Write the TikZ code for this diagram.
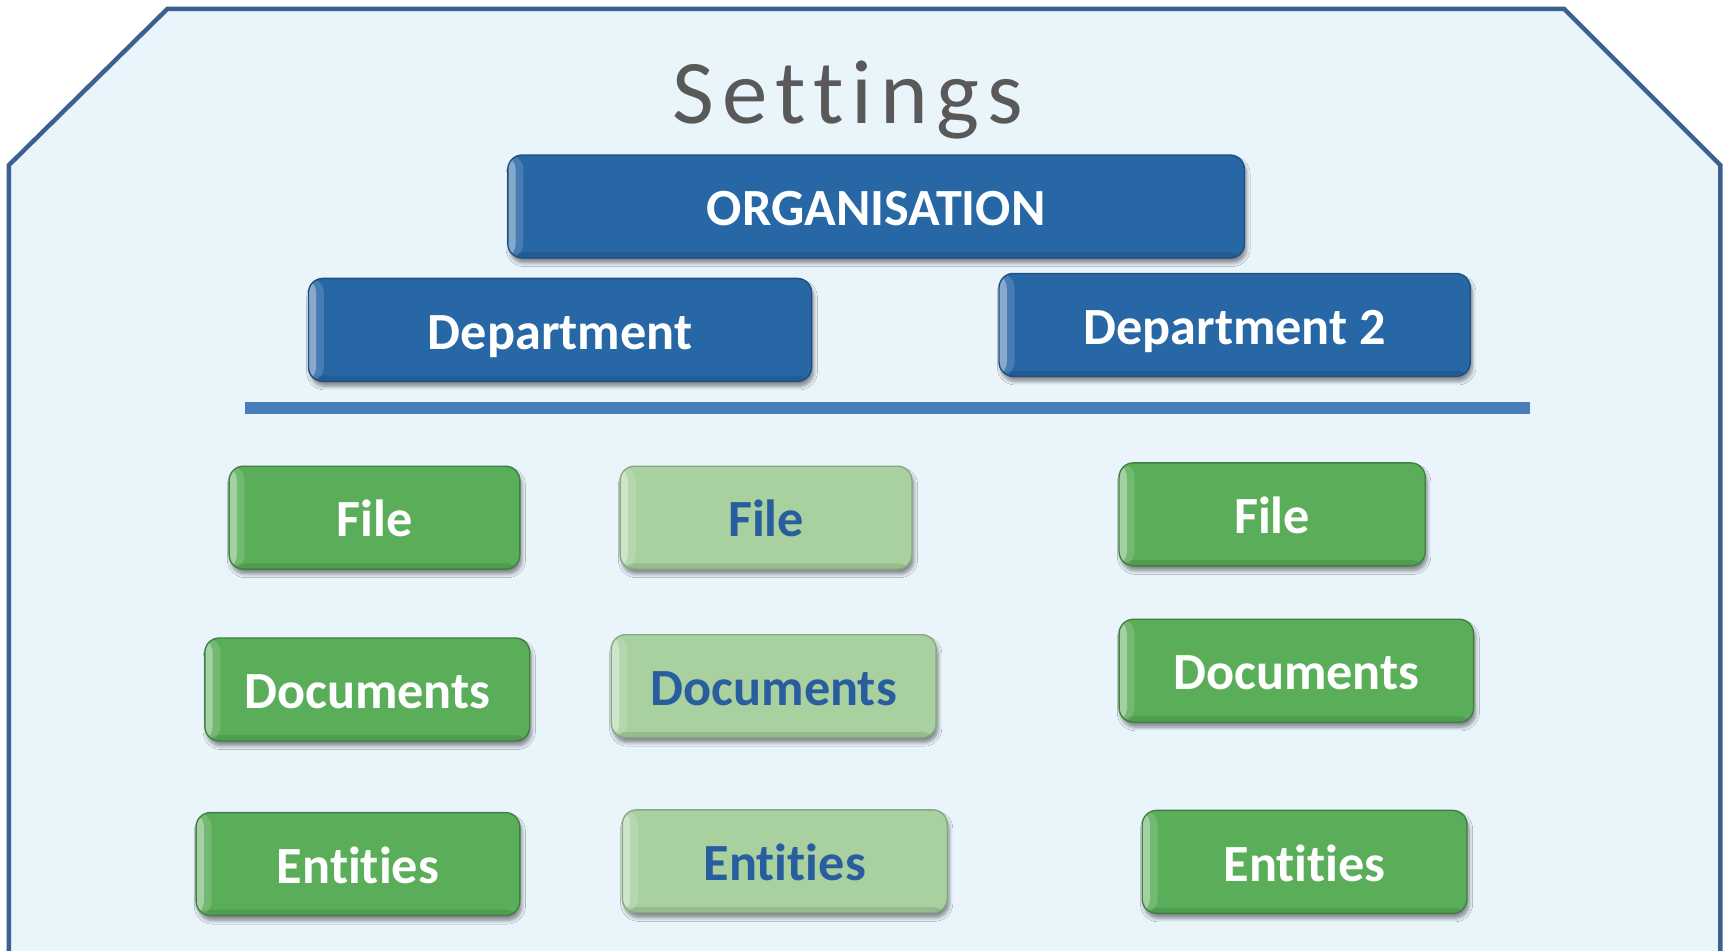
\documentclass[tikz,border=0pt]{standalone}
\usepackage{fontspec}
\setmainfont{Carlito}[Ligatures={NoCommon}]
\usetikzlibrary{shadows.blur}
\definecolor{bgfill}{HTML}{EAF4FB}
\definecolor{bgline}{HTML}{3B6190}
\definecolor{divline}{HTML}{4A7EBB}
\definecolor{boxblue}{HTML}{2767A5}
\definecolor{boxblueline}{HTML}{1E4F7F}
\definecolor{boxgreen}{HTML}{5AAE5A}
\definecolor{boxgreenline}{HTML}{3F7F3F}
\definecolor{boxlight}{HTML}{A9D1A0}
\definecolor{boxlightline}{HTML}{86A882}
\definecolor{textblue}{HTML}{285D9E}
\definecolor{titlegray}{HTML}{595959}
\tikzset{
  basebox/.style={rounded corners=0.26cm, minimum height=1.87cm, inner sep=0pt,
    text height=19.8pt, text depth=0pt,
    font=\fontsize{27}{30}\selectfont\bfseries, line width=0.7pt,
    blur shadow={shadow xshift=1pt, shadow yshift=-2.5pt, shadow blur steps=6, shadow opacity=45},
    path picture={
      \fill[white, opacity=.35] (path picture bounding box.south west) rectangle ([xshift=4pt]path picture bounding box.north west);
      \fill[white, opacity=.15] (path picture bounding box.south west) rectangle ([xshift=8pt]path picture bounding box.north west);
      \fill[black, opacity=.10] (path picture bounding box.south west) rectangle ([yshift=3pt]path picture bounding box.south east);
    }},
  bluebox/.style={basebox, fill=boxblue, draw=boxblueline, text=white},
  greenbox/.style={basebox, fill=boxgreen, draw=boxgreenline, text=white},
  lightbox/.style={basebox, fill=boxlight, draw=boxlightline, text=textblue},
  frame/.style={fill=bgfill, draw=bgline, line width=2.3pt, line join=miter},
  divider/.style={draw=divline, line width=6pt},
  titletext/.style={text=titlegray, inner sep=0pt, font=\fontsize{47}{54}\selectfont\addfontfeatures{LetterSpace=9}}
}
\begin{document}
\begin{tikzpicture}[x=0.02cm, y=-0.02cm]
  \useasboundingbox (0,0) rectangle (1568,863);
  \clip (0,0) rectangle (1568,863);
  \path[frame] (8,900) -- (8,150) -- (152,8) -- (1420,8) -- (1562,150) -- (1562,900);

  \node[titletext, anchor=base] (title) at (770,112) {Settings};

  \node[bluebox, minimum width=13.38cm] (org) at (795.5,187.5) {ORGANISATION};
  \node[bluebox, minimum width=9.14cm] (dep1) at (508.5,299.5) {Department};
  \node[bluebox, minimum width=8.56cm] (dep2) at (1121,295) {Department 2};

  \coordinate (divL) at (222,370.5);
  \coordinate (divR) at (1389,370.5);
  \draw[divider] (divL) -- (divR);

  \node[greenbox, minimum width=5.28cm] (f1) at (340,470) {File};
  \node[lightbox, minimum width=5.30cm] (f2) at (695.5,470) {File};
  \node[greenbox, minimum width=5.56cm] (f3) at (1155,467) {File};

  \node[greenbox, minimum width=5.90cm] (d1) at (333.5,626) {Documents};
  \node[lightbox, minimum width=5.90cm] (d2) at (702.5,623) {Documents};
  \node[greenbox, minimum width=6.44cm] (d3) at (1177,609) {Documents};

  \node[greenbox, minimum width=5.88cm] (e1) at (325,784.5) {Entities};
  \node[lightbox, minimum width=5.90cm] (e2) at (712.5,782) {Entities};
  \node[greenbox, minimum width=5.90cm] (e3) at (1184.5,782.5) {Entities};
\end{tikzpicture}
\end{document}
